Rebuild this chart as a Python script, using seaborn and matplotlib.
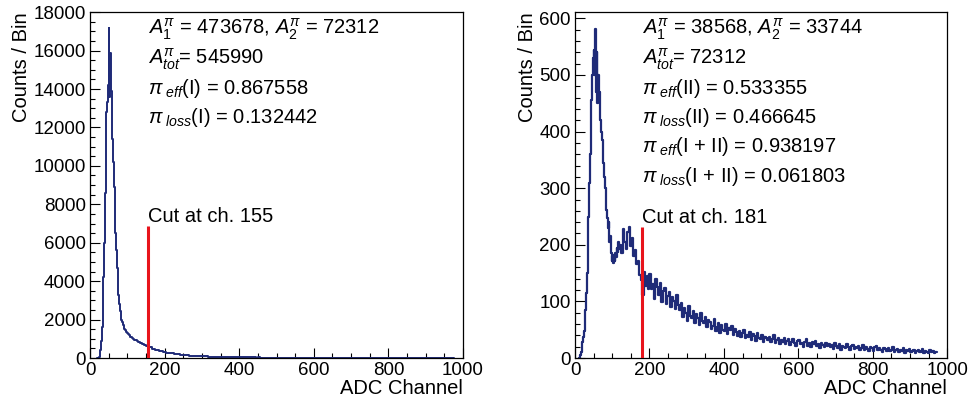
import numpy as np
import pandas as pd
import matplotlib
matplotlib.use("Agg")
import matplotlib.pyplot as plt
from matplotlib.ticker import MultipleLocator
import seaborn as sns

# ---- data ----
# left panel: 2-channel bins from ch 20 to 120, then 5-channel bins
left_fine_start = 20
left_fine = [0, 0, 30, 120, 400, 900, 1600, 2600, 4200, 6000,
             8600, 10800, 12800, 13300, 14200, 17150, 13600, 15900, 13900, 12600,
             11400, 10200, 8900, 7600, 6500, 5600, 4700, 4000, 3300, 2800,
             2450, 2200, 2000, 1850, 1720, 1620, 1520, 1450, 1380, 1330,
             1280, 1250, 1190, 1160, 1110, 1080, 1060, 1020, 990, 960]
left_tail = [930, 860, 840, 780, 740, 670, 630, 570, 550, 490,
             480, 430, 420, 370, 360, 320, 310, 270, 268, 238,
             236, 208, 205, 184, 182, 162, 162, 145, 146, 130,
             130, 116, 117, 104, 104, 93, 94, 84, 84, 76,
             76, 69, 70, 63, 64, 57, 59, 52, 54, 48,
             50, 44, 46, 41, 43, 38, 40, 36, 37, 33,
             35, 31, 32, 29, 31, 27, 29, 25, 27, 24,
             26, 22, 24, 21, 23, 20, 22, 19, 21, 18,
             19, 17, 18, 16, 17, 15, 17, 14, 16, 14,
             15, 13, 15, 12, 14, 12, 13, 11, 13, 11,
             12, 10, 12, 10, 11, 9, 11, 9, 11, 8,
             10, 8, 10, 8, 9, 7, 9, 7, 9, 7,
             9, 6, 8, 6, 8, 6, 8, 5, 7, 5,
             7, 5, 7, 5, 7, 4, 6, 4, 6, 4,
             6, 4, 6, 4, 5, 3, 5, 3, 5, 3,
             5, 3, 5, 3, 5, 3, 4, 2, 4, 2,
             4, 2, 4, 2, 4, 2, 4, 2, 4, 2, 3]

# right panel: 2-channel bins from ch 10 to 120, then 4-channel bins
right_fine_start = 10
right_fine = [0, 2, 5, 10, 18, 28, 38, 48, 62, 85,
              115, 150, 195, 250, 310, 360, 410, 455, 500, 530,
              545, 500, 582, 470, 540, 450, 500, 470, 440, 420,
              400, 385, 360, 345, 320, 300, 285, 262, 248, 230,
              240, 205, 215, 185, 172, 180, 168, 182, 172, 185,
              178, 195, 188, 205, 192]
right_tail = [200, 186, 228, 205, 192, 222, 232, 198, 212, 180,
              190, 166, 172, 146, 138, 112, 152, 128, 145, 122,
              148, 122, 131, 105, 140, 126, 112, 133, 99, 118,
              124, 96, 110, 117, 90, 108, 101, 86, 112, 94,
              84, 97, 73, 88, 79, 66, 92, 75, 70, 83,
              62, 77, 71, 58, 80, 66, 61, 73, 55, 67,
              63, 52, 57, 69, 48, 55, 61, 44, 58, 50,
              47, 60, 42, 53, 49, 57, 41, 51, 46, 39,
              47, 38, 44, 50, 35, 41, 37, 46, 32, 43,
              39, 30, 45, 36, 33, 40, 28, 38, 35, 31,
              37, 29, 33, 40, 27, 31, 35, 24, 32, 28,
              36, 25, 30, 33, 23, 29, 34, 26, 22, 30,
              31, 24, 27, 20, 29, 33, 22, 26, 19, 28,
              24, 30, 21, 25, 18, 27, 23, 20, 26, 22,
              25, 19, 23, 16, 26, 21, 18, 24, 15, 22,
              20, 17, 25, 19, 14, 21, 23, 16, 20, 17,
              21, 15, 18, 23, 14, 19, 16, 13, 20, 17,
              12, 19, 22, 14, 17, 15, 11, 18, 16, 13,
              17, 12, 15, 19, 11, 14, 16, 10, 15, 13,
              17, 9, 14, 12, 16, 10, 13, 15, 9, 12,
              14, 10, 12, 16, 8, 13, 11, 9, 14, 10, 12, 8, 11]

left_cut = 155
right_cut = 181

left_lines = [r"$A^{\pi}_{\mathit{1}}$ = 473678, $A^{\pi}_{\mathit{2}}$ = 72312",
              r"$A^{\pi}_{tot}$= 545990",
              r"$\pi_{\ eff}$(I) = 0.867558",
              r"$\pi_{\ loss}$(I) = 0.132442"]
right_lines = [r"$A^{\pi}_{\mathit{1}}$ = 38568, $A^{\pi}_{\mathit{2}}$ = 33744",
               r"$A^{\pi}_{tot}$= 72312",
               r"$\pi_{\ eff}$(II) = 0.533355",
               r"$\pi_{\ loss}$(II) = 0.466645",
               r"$\pi_{\ eff}$(I + II) = 0.938197",
               r"$\pi_{\ loss}$(I + II) = 0.061803"]

sns.set_style("ticks")
plt.rcParams['font.family'] = ['Liberation Sans', 'DejaVu Sans']
plt.rcParams['mathtext.fontset'] = 'custom'
plt.rcParams['mathtext.rm'] = 'Liberation Sans'
plt.rcParams['mathtext.it'] = 'Liberation Sans:italic'
plt.rcParams['mathtext.bf'] = 'Liberation Sans:bold'
for k in ['text.color', 'axes.labelcolor', 'xtick.color', 'ytick.color', 'axes.edgecolor']:
    plt.rcParams[k] = 'black'

LINE = "#1f2b78"
TXT = 14.5


def build(start, fine, fine_w, tail, tail_w):
    fine_edges = start + fine_w * np.arange(len(fine) + 1)
    tail_edges = fine_edges[-1] + tail_w * np.arange(len(tail) + 1)
    edges = np.concatenate([fine_edges, tail_edges[1:]])
    counts = np.array(fine + tail, dtype=float)
    df = pd.DataFrame({"ch": 0.5 * (edges[:-1] + edges[1:]), "n": counts})
    return [float(e) for e in edges], df


def draw(ax, edges, df, ymax, ymajor, yminor, cut, cut_top, lines, lw):
    sns.histplot(data=df, x="ch", weights="n", bins=edges, element="step",
                 fill=False, color=LINE, linewidth=lw, ax=ax)
    ax.vlines(cut, 0, cut_top, color="#e8141c", linewidth=2.2, zorder=5)
    ax.text(cut, cut_top, f"Cut at ch. {cut}", fontsize=TXT,
            ha="left", va="bottom")
    ax.set_xlim(0, 1000)
    ax.set_ylim(0, ymax)
    ax.xaxis.set_major_locator(MultipleLocator(200))
    ax.xaxis.set_minor_locator(MultipleLocator(50))
    ax.yaxis.set_major_locator(MultipleLocator(ymajor))
    ax.yaxis.set_minor_locator(MultipleLocator(yminor))
    ax.tick_params(which="both", direction="in", top=False, right=False,
                   labelsize=13.5, width=0.8)
    ax.tick_params(which="major", length=7, pad=3)
    ax.tick_params(which="minor", length=3.5)
    for s in ax.spines.values():
        s.set_visible(True)
        s.set_linewidth(0.9)
    ax.set_xlabel("ADC Channel", fontsize=14.5, ha="right", x=1.0, labelpad=0)
    ax.set_ylabel("Counts / Bin", fontsize=14.5, ha="right", y=1.0, labelpad=2)
    for i, t in enumerate(lines):
        ax.text(cut, 0.95 * ymax - i * 0.0848 * ymax, t, fontsize=TXT,
                ha="left", va="center")


fig = plt.figure(figsize=(9.73, 4.05), dpi=100)
ax1 = fig.add_axes([0.0925, 0.116, 0.3834, 0.854])
ax2 = fig.add_axes([0.591, 0.116, 0.3826, 0.854])

e1, d1 = build(left_fine_start, left_fine, 2, left_tail, 5)
e2, d2 = build(right_fine_start, right_fine, 2, right_tail, 4)

draw(ax1, e1, d1, 18000, 2000, 500, left_cut, 6850, left_lines, 1.4)
draw(ax2, e2, d2, 611, 100, 20, right_cut, 232, right_lines, 1.6)

fig.savefig("out.png", dpi=100)
